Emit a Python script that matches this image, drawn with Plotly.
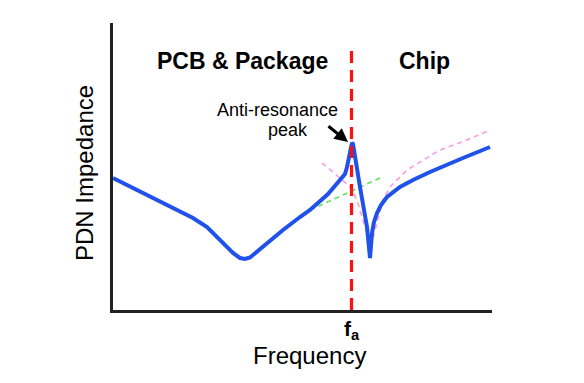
import plotly.graph_objects as go

# Data (arbitrary units: x = frequency, y = impedance)
pdn_x = [0, 37, 57, 80, 94, 107, 120, 127, 132, 137, 140, 154, 170, 187, 197, 215, 227, 232,
         234, 236, 238, 239, 240, 242, 247, 254, 257, 259, 261, 264, 268, 274, 280, 287, 300,
         317, 350, 377]
pdn_y = [132, 113, 103, 92, 83, 70, 57, 52, 51, 52.5, 55, 67, 80, 93, 100, 116, 130, 136,
         143, 155, 164, 167, 166, 155, 123, 83, 52, 77, 88, 97, 105, 113, 118, 123, 130,
         138, 152, 163]

pink_down_x = [209, 220, 237, 244, 250, 255, 258]
pink_down_y = [147, 138, 123, 110, 90, 73, 62]
pink_up_x = [260, 265, 270, 277, 294, 327, 354, 377]
pink_up_y = [72, 92, 110, 123, 140, 160, 170, 180]

green_x = [197, 269]
green_y = [100, 133]

fa_x = 238.5
fa_line_y = [0, 262]

X_RANGE = [0, 379]
Y_RANGE = [0, 287]

FONT = "Liberation Sans, Arial, sans-serif"

fig = go.Figure()

fig.add_trace(go.Scatter(x=green_x, y=green_y, mode="lines",
                         line=dict(color="#66DD66", width=1.6, dash="5px,4px"),
                         hoverinfo="skip"))
fig.add_trace(go.Scatter(x=pink_down_x, y=pink_down_y, mode="lines",
                         line=dict(color="#FF9ADF", width=1.6, dash="5px,4px"),
                         hoverinfo="skip"))
fig.add_trace(go.Scatter(x=pink_up_x, y=pink_up_y, mode="lines",
                         line=dict(color="#FF9ADF", width=1.6, dash="5px,4px"),
                         hoverinfo="skip"))
fig.add_trace(go.Scatter(x=pdn_x, y=pdn_y, mode="lines",
                         line=dict(color="#1F52EA", width=4),
                         hoverinfo="skip"))
fig.add_trace(go.Scatter(x=[fa_x, fa_x], y=fa_line_y, mode="lines",
                         line=dict(color="#FF1010", width=3.2, dash="12px,7px"),
                         hoverinfo="skip"))


def px(v):
    return v / (X_RANGE[1] - X_RANGE[0])


def py(v):
    return v / (Y_RANGE[1] - Y_RANGE[0])


annotations = [
    dict(x=129, y=249, xref="x", yref="y", text="<b>PCB &amp; Package</b>", font=dict(size=23)),
    dict(x=311, y=249, xref="x", yref="y", text="<b>Chip</b>", font=dict(size=23)),
    dict(x=164, y=200, xref="x", yref="y", text="Anti-resonance", font=dict(size=18)),
    dict(x=175, y=180, xref="x", yref="y", text="peak", font=dict(size=18)),
    dict(x=px(fa_x), y=py(-20), xref="paper", yref="paper", text="<b>f<sub>a</sub></b>",
         font=dict(size=21)),
    dict(x=px(196), y=py(-45), xref="paper", yref="paper", text="Frequency", font=dict(size=24)),
    dict(x=px(-28), y=py(137), xref="paper", yref="paper", text="PDN Impedance", textangle=-90,
         font=dict(size=24)),
]
for a in annotations:
    a.update(showarrow=False, xanchor="center", yanchor="middle",
             font=dict(family=FONT, color="black", **a["font"]))

annotations.append(dict(x=235, y=168, xref="x", yref="y", ax=-21, ay=-17, text="",
                        showarrow=True, arrowhead=2, arrowsize=0.9, arrowwidth=3,
                        arrowcolor="black"))

# the page body has an 8px margin, so the figure is shifted by 8px
fig.update_layout(
    width=568, height=367,
    margin=dict(l=105, r=84, t=15, b=65),
    paper_bgcolor="white", plot_bgcolor="white",
    showlegend=False,
    annotations=annotations,
    xaxis=dict(range=X_RANGE, showgrid=False, zeroline=False, showticklabels=False,
               ticks="", showline=True, linecolor="#222222", linewidth=2.5, fixedrange=True),
    yaxis=dict(range=Y_RANGE, showgrid=False, zeroline=False, showticklabels=False,
               ticks="", showline=True, linecolor="#222222", linewidth=2.5, fixedrange=True),
)

fig.write_html("out.html")
